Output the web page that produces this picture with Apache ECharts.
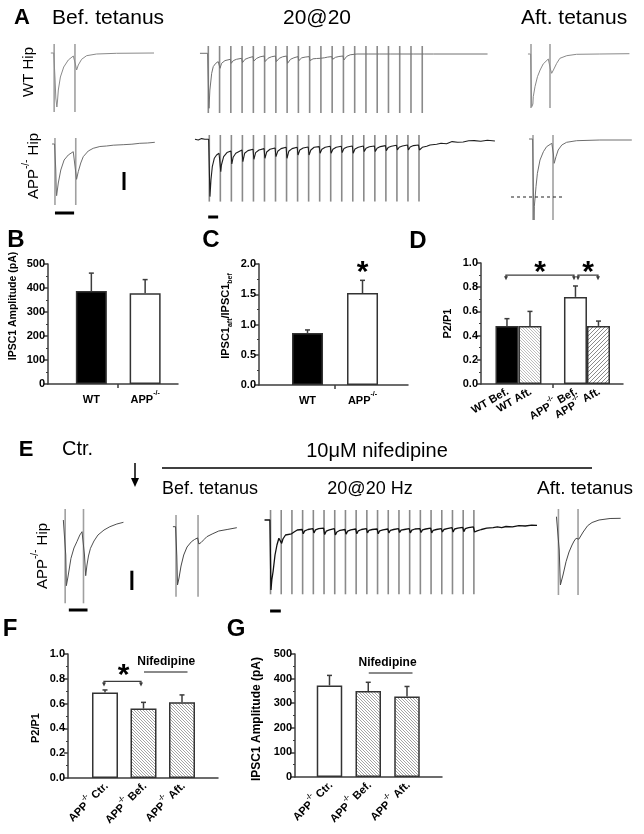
<!DOCTYPE html>
<html>
<head>
<meta charset="utf-8">
<script src="https://cdn.jsdelivr.net/npm/echarts@6.0.0/dist/echarts.min.js"></script>
<style>
html,body{margin:0;padding:0;background:#fff;}
#chart{width:644px;height:834px;}
</style>
</head>
<body>
<div id="chart"></div>
<script>
// ======================= DATA =======================
// Panel B : IPSC1 amplitude (pA)
const bCategories = ['WT', 'APP-/-'];
const bMean = [387, 378];
const bSem = [75, 57];
const bTicks = [0, 100, 200, 300, 400, 500];

// Panel C : IPSC1aft / IPSC1bef
const cCategories = ['WT', 'APP-/-'];
const cMean = [0.86, 1.52];
const cSem = [0.05, 0.21];
const cTicks = [0, 0.5, 1.0, 1.5, 2.0];

// Panel D : P2/P1
const dGroups = ['WT', 'APP-/-'];
const dLabels = ['WT Bef.', 'WT Aft.', 'APP-/- Bef.', 'APP-/- Aft.'];
const dBefMean = [0.48, 0.72];
const dBefSem = [0.06, 0.09];
const dAftMean = [0.48, 0.48];
const dAftSem = [0.12, 0.04];
const dTicks = [0, 0.2, 0.4, 0.6, 0.8, 1.0];

// Panel F : P2/P1 with nifedipine
const fCategories = ['APP-/- Ctr.', 'APP-/- Bef.', 'APP-/- Aft.'];
const fMean = [0.69, 0.56, 0.61];
const fSem = [0.02, 0.05, 0.06];
const fTicks = [0, 0.2, 0.4, 0.6, 0.8, 1.0];

// Panel G : IPSC1 amplitude with nifedipine (pA)
const gCategories = ['APP-/- Ctr.', 'APP-/- Bef.', 'APP-/- Aft.'];
const gMean = [372, 350, 327];
const gSem = [41, 35, 41];
const gTicks = [0, 100, 200, 300, 400, 500];

// Stimulus times (ms)
const pairStims = [0, 50];
const trainStims = [0, 50, 100, 150, 200, 250, 300, 350, 400, 450, 500, 550, 600, 650, 700, 750, 800, 850, 900, 950];

// Panel A traces: [time ms, current pA]
const aWtBef = [[-8,0],[-1,0],[2,-250],[4,-450],[6.5,-540],[8,-480],[10,-370],[15,-240],[23,-140],[34,-70],[46,-30],[49,-25],[51,-110],[54,-170],[58,-120],[66,-63],[78,-27],[102,-10],[150,-3],[240,0]];
const aAppBef = [[-7,0],[-1,0],[2,-260],[3,-440],[4,-517],[8,-390],[14,-260],[22,-160],[32,-110],[44,-77],[48,-70],[52,-353],[56,-277],[62,-190],[68,-127],[80,-70],[92,-43],[108,-25],[124,-20],[140,-12],[164,-7],[185,-2],[204,7],[222,10],[240,17]];
const aWtAft = [[-8,0],[-1,0],[1,-360],[2,-527],[5,-500],[6,-427],[10.5,-327],[17,-227],[24,-160],[32,-100],[45.5,-50],[49,-45],[51,-150],[54.4,-193],[59,-160],[67.6,-93],[76,-43],[94,-17],[120,-3],[181,0],[259,3]];
const aAppAft = [[-10,0],[-1,0],[1,-510],[2.5,-810],[3.3,-677],[7.5,-477],[11,-343],[17.5,-210],[26,-127],[34,-77],[47,-43],[49,-40],[51,-150],[53,-243],[57.5,-177],[63,-110],[72,-60],[84,-33],[109,-17],[167,-10],[247,-10]];
const aWtTrain = [[-37,0],[-3,0],
 [3,-550],[7,-367],[15,-200],[22,-133],[33,-100],[44,-83],[48,-80],
 [52,-150],[59,-100],[74,-73],[98,-60],
 [102,-100],[111,-73],[125,-60],[148,-50],
 [152,-93],[163,-60],[180,-45],[198,-33],
 [202,-77],[215,-50],[230,-35],[248,-27],
 [252,-83],[265,-50],[280,-35],[298,-27],
 [302,-83],[315,-50],[330,-35],[348,-27],
 [352,-100],[365,-60],[380,-45],[398,-33],
 [402,-73],[415,-45],[430,-38],[448,-33],
 [452,-73],[465,-55],[480,-52],[498,-50],
 [502,-67],[515,-45],[530,-38],[548,-33],
 [552,-60],[565,-40],[580,-32],[598,-27],
 [602,-67],[615,-30],[630,-15],[648,-10],
 [652,-15],[660,-7],[698,-7],
 [702,-15],[710,-7],[748,-7],
 [752,-15],[760,-7],[798,-7],
 [802,-15],[810,-7],[848,-7],
 [852,-15],[860,-7],[898,-7],
 [902,-15],[910,-7],[948,-7],
 [952,-15],[960,-7],[1000,-7],[1100,-7],[1240,-7]];
const aAppTrain = [[-65,0],[-50,-7],[-35,7],[-20,0],[-3,0],
 [3,-573],[7.5,-407],[13.6,-273],[22.6,-190],[33,-157],[44,-140],[48,-138],
 [52,-323],[55,-257],[65,-173],[80,-133],[98,-117],
 [102,-247],[108,-180],[120,-140],[148,-107],
 [152,-223],[160,-140],[175,-113],[198,-100],
 [202,-200],[210,-133],[225,-107],[248,-93],
 [252,-190],[260,-127],[275,-100],[298,-87],
 [302,-173],[310,-120],[325,-93],[348,-80],
 [352,-190],[360,-120],[375,-93],[398,-80],
 [402,-157],[410,-107],[425,-87],[448,-77],
 [452,-157],[460,-107],[475,-80],[498,-73],
 [502,-140],[510,-100],[525,-80],[548,-70],
 [552,-140],[560,-100],[575,-80],[598,-70],
 [602,-133],[610,-93],[625,-77],[648,-67],
 [652,-140],[660,-97],[675,-80],[698,-67],
 [702,-123],[710,-90],[725,-75],[748,-67],
 [752,-123],[760,-90],[775,-73],[798,-63],
 [802,-113],[810,-83],[825,-70],[848,-60],
 [852,-107],[860,-80],[875,-67],[898,-57],
 [902,-107],[910,-77],[925,-63],[948,-57],
 [952,-107],[965,-80],[985,-70],[1000,-57],[1030,-50],[1050,-40],[1075,-45],[1100,-23],[1125,-30],[1150,-27],[1175,-15],[1200,-13],[1230,-20],[1260,-10],[1294,-17]];

// Panel E traces: [time ms, current pA]
const eCtr = [[-5,0],[-1,0],[1.6,-350],[3.3,-657],[7.6,-570],[15.8,-383],[24,-280],[32,-217],[40,-150],[46,-117],[48.6,-110],[52.7,-350],[56,-557],[59.5,-450],[63.6,-360],[69,-283],[78.6,-210],[89.5,-150],[106,-100],[122,-67],[141,-40],[159,-23]];
const eBef = [[-7,0],[-1,0],[1.8,-293],[3.4,-583],[6.8,-513],[11.4,-393],[17.5,-283],[25,-203],[35,-150],[42,-128],[46.5,-116],[49,-112],[52,-173],[57,-158],[63.6,-128],[70,-100],[82,-73],[97,-43],[116,-28],[138,-10]];
const eTrain = [[-28,0],[-3,0],
 [2,-700],[6,-600],[12,-515],[21,-350],[30,-250],[39,-183],[48,-172],
 [52,-234],[58,-190],[70,-150],[98,-138],
 [103,-150],[110,-120],[125,-100],[148,-95],
 [153,-138],[160,-108],[175,-95],[198,-86],
 [203,-129],[210,-99],[225,-86],[248,-82],
 [253,-146],[260,-112],[275,-99],[298,-86],
 [303,-150],[310,-120],[325,-103],[348,-95],
 [353,-142],[360,-112],[375,-99],[398,-90],
 [403,-138],[410,-108],[425,-95],[448,-86],
 [453,-129],[460,-103],[475,-95],[498,-90],
 [503,-138],[510,-108],[525,-99],[548,-90],
 [553,-129],[560,-103],[575,-95],[598,-86],
 [603,-125],[610,-101],[625,-95],[648,-86],
 [653,-129],[660,-101],[675,-90],[698,-86],
 [703,-125],[710,-99],[725,-90],[748,-82],
 [753,-129],[760,-103],[775,-95],[798,-86],
 [803,-120],[810,-95],[825,-86],[848,-77],
 [853,-120],[860,-90],[875,-82],[898,-73],
 [903,-116],[910,-86],[925,-77],[948,-69],
 [953,-120],[965,-108],[985,-95],[1010,-82],[1040,-77],[1060,-69],[1080,-77],[1100,-65],[1130,-69],[1160,-56],[1190,-60],[1220,-52],[1245,-53]];
const eAft = [[-5,0],[-1,0],[2,-333],[5,-683],[11.7,-583],[19.4,-450],[27,-353],[34.7,-283],[40,-243],[45,-216],[49,-205],[52,-225],[55,-216],[63,-153],[74.5,-90],[85.7,-58],[103.5,-33],[131.6,-18],[158.6,-16]];

// ======================= STYLE / LAYOUT =======================
const FONT = 'Arial, "Liberation Sans", Helvetica, sans-serif';
const AX = '#3c3c3c';
const grids = [], xAxes = [], yAxes = [], series = [];

function hatch(dir, color, step, lw) {
  const c = document.createElement('canvas'); c.width = step; c.height = step;
  const g = c.getContext('2d'); g.fillStyle = '#fff'; g.fillRect(0, 0, step, step);
  g.strokeStyle = color; g.lineWidth = lw; g.beginPath();
  for (let k = -1; k <= 1; k++) {
    if (dir > 0) { g.moveTo(k * step, step); g.lineTo(k * step + step, 0); }
    else { g.moveTo(k * step, 0); g.lineTo(k * step + step, step); }
  }
  g.stroke();
  return { image: c, repeat: 'repeat' };
}
const hatchFwd = hatch(1, '#8a8a8a', 4, 1);
const hatchBack = hatch(-1, '#9a9a9a', 3, 0.9);
const hatchLight = hatch(-1, '#b5b5b5', 3, 0.9);

// ---------- trace panels ----------
function traceGrid(box, xr, yr) {
  const i = grids.length;
  grids.push({ left: box[0], top: box[1], width: box[2], height: box[3], containLabel: false, show: false });
  xAxes.push({ type: 'value', gridIndex: i, min: xr[0], max: xr[1], show: false });
  yAxes.push({ type: 'value', gridIndex: i, min: yr[0], max: yr[1], show: false });
  return { x: xAxes.length - 1, y: yAxes.length - 1 };
}
function segSeries(ax, segs, color, width, dash, z) {
  return {
    type: 'custom', xAxisIndex: ax.x, yAxisIndex: ax.y, data: segs, silent: true, z: z || 2, animation: false,
    renderItem: (p, api) => {
      const a = api.coord([api.value(0), api.value(1)]);
      const b = api.coord([api.value(2), api.value(3)]);
      return { type: 'line', shape: { x1: a[0], y1: a[1], x2: b[0], y2: b[1] },
               style: { stroke: color, lineWidth: width, lineDash: dash || null } };
    }
  };
}
function tracePanel(box, xr, yr, trace, stims, artRange, color, lw, artColor) {
  const ax = traceGrid(box, xr, yr);
  series.push(segSeries(ax, stims.map(t => [t, artRange[0], t, artRange[1]]), artColor || '#a0a0a0', 1.6));
  series.push({ type: 'line', xAxisIndex: ax.x, yAxisIndex: ax.y, data: trace, symbol: 'none', silent: true, z: 3,
                animation: false, lineStyle: { color: color, width: lw || 1 } });
  return ax;
}

// Panel A
tracePanel([50, 43, 104, 70], [-10, 240], [-600, 100], aWtBef, pairStims, [-590, 90], '#8a8a8a', 1);
const gAppBef = tracePanel([50.8, 136, 104, 80], [-10, 240], [-720, 80], aAppBef, pairStims, [-610, 60], '#6e6e6e', 1);
series.push(segSeries(gAppBef, [[0, -690, 46, -690], [166, -280, 166, -460]], '#000', 3, null, 4));
tracePanel([199.3, 45.3, 290.5, 68], [-40, 1250], [-600, 80], aWtTrain, trainStims, [-597, 73], '#707070', 1, '#8a8a8a');
const gAppTrain = tracePanel([193.85, 133.3, 302.4, 86], [-70, 1300], [-800, 60], aAppTrain, trainStims, [-623, 43], '#1e1e1e', 1.1, '#8a8a8a');
series.push(segSeries(gAppTrain, [[-5, -777, 40, -777]], '#000', 3, null, 4));
tracePanel([527.2, 44, 102.6, 70], [-10, 260], [-600, 100], aWtAft, pairStims, [-540, 100], '#8a8a8a', 1);
const gAppAft = tracePanel([509, 134, 124, 87], [-60, 250], [-820, 50], aAppAft, pairStims, [-810, 40], '#6e6e6e', 1);
series.push(segSeries(gAppAft, [[-55, -580, 80, -580]], '#222', 1.2, [3, 3], 4));

// Panel E
const gECtr = tracePanel([61.5, 507, 73.3, 106], [-10, 190], [-930, 130], eCtr, pairStims, [-833, 110], '#505050', 1);
series.push(segSeries(gECtr, [[182, -507, 182, -700], [10, -900, 61, -900]], '#000', 3, null, 4));
tracePanel([171.6, 513.7, 68.3, 85], [-10, 145], [-720, 130], eBef, pairStims, [-700, 117], '#484848', 1);
const gETrain = tracePanel([264.1, 508, 274, 106], [-30, 1250], [-940, 120], eTrain, trainStims, [-743, 100], '#111', 1.3, '#8a8a8a');
series.push(segSeries(gETrain, [[-2, -910, 48, -910]], '#000', 3, null, 4));
tracePanel([554.5, 507.7, 66.7, 89], [-10, 160], [-800, 90], eAft, pairStims, [-783, 77], '#484848', 1);

// ---------- bar panels ----------
function rich(s) {
  if (typeof s !== 'string') return '';
  if (s.indexOf('APP-/-') === 0) return '{b|APP}{s|-/-}' + (s.length > 6 ? '{b|' + s.slice(6) + '}' : '');
  return '{b|' + s + '}';
}
const richStyles = (fs) => ({
  b: { fontFamily: FONT, fontWeight: 'bold', fontSize: fs, color: '#000', lineHeight: fs + 4, verticalAlign: 'bottom' },
  s: { fontFamily: FONT, fontWeight: 'bold', fontSize: Math.round(fs * 0.65), color: '#000', lineHeight: 7, verticalAlign: 'top' }
});
function labelAxis(gi, xr, xLabels, labelVals, idxs, rotate, withLine, tickVals) {
  const vals = idxs.map(k => labelVals[k]);
  const labelFor = (v) => {
    let best = -1, bd = 1e9;
    labelVals.forEach((u, k) => { const d = Math.abs(u - v); if (d < bd) { bd = d; best = k; } });
    return bd < 1e-3 ? rich(xLabels[best]) : '';
  };
  xAxes.push({
    type: 'value', gridIndex: gi, min: xr[0], max: xr[1], position: 'bottom',
    axisLine: { show: withLine, onZero: false, lineStyle: { color: AX, width: 1.5 } },
    axisTick: (withLine && tickVals) ? { show: true, customValues: tickVals, length: 4, lineStyle: { color: AX, width: 1.5 } } : { show: false },
    axisLabel: { show: true, customValues: vals, rotate: rotate || 0, margin: rotate ? 5 : 6,
                 showMinLabel: true, showMaxLabel: true, hideOverlap: false,
                 formatter: (v) => labelFor(v), rich: richStyles(11) },
    splitLine: { show: false }
  });
  return xAxes.length - 1;
}
function barGrid(box, xr, ticks, fmt, xLabels, labelVals, labelGroups, tickVals, rotate, name, nameGap, nameSize, namePad, nameRich) {
  const gi = grids.length;
  grids.push({ left: box[0], top: box[1], width: box[2], height: box[3], containLabel: false, show: false });
  // first axis carries the axis line & ticks; extra axes only carry labels (avoids min/max label overlap hiding)
  const xi = labelAxis(gi, xr, xLabels, labelVals, labelGroups[0], rotate, true, tickVals);
  for (let g = 1; g < labelGroups.length; g++) labelAxis(gi, xr, xLabels, labelVals, labelGroups[g], rotate, false, null);
  yAxes.push({
    type: 'value', gridIndex: gi, min: ticks[0], max: ticks[ticks.length - 1], interval: ticks[1] - ticks[0],
    axisLine: { show: true, onZero: false, lineStyle: { color: AX, width: 1.5 } },
    axisTick: { show: true, length: 4, lineStyle: { color: AX, width: 1.5 } },
    minorTick: { show: true, splitNumber: 2, length: 2, lineStyle: { color: AX, width: 1 } },
    splitLine: { show: false },
    axisLabel: { fontFamily: FONT, fontWeight: 'bold', fontSize: 11, color: '#000', margin: 3, formatter: fmt,
                 showMinLabel: true, showMaxLabel: true },
    name: name, nameLocation: 'middle', nameGap: nameGap,
    nameTextStyle: Object.assign({ fontFamily: FONT, fontWeight: 'bold', fontSize: nameSize, color: '#000', padding: namePad }, nameRich ? { rich: nameRich } : {})
  });
  return { x: xi, y: yAxes.length - 1 };
}
function errSeries(ax, means, sems, offPx) {
  return {
    type: 'custom', xAxisIndex: ax.x, yAxisIndex: ax.y, z: 4, silent: true, animation: false,
    data: means.map((m, k) => [k, m, m + sems[k]]),
    renderItem: (p, api) => {
      const a = api.coord([api.value(0), api.value(1)]);
      const b = api.coord([api.value(0), api.value(2)]);
      const x = a[0] + (offPx || 0);
      return { type: 'group', children: [
        { type: 'line', shape: { x1: x, y1: a[1], x2: x, y2: b[1] }, style: { stroke: AX, lineWidth: 1.5 } },
        { type: 'line', shape: { x1: x - 2.5, y1: b[1], x2: x + 2.5, y2: b[1] }, style: { stroke: AX, lineWidth: 1.5 } }
      ] };
    }
  };
}
function barSeries(ax, means, colors, width, gap) {
  return { type: 'bar', xAxisIndex: ax.x, yAxisIndex: ax.y, barWidth: width, barGap: gap || '30%', animation: false, silent: true, z: 3,
           data: means.map((m, k) => ({ value: [k, m], itemStyle: { color: colors[k] } })),
           itemStyle: { borderColor: '#333', borderWidth: 1.5 } };
}
function starText(x, y) {
  return { type: 'text', x: x, y: y, style: { text: '*', fontFamily: FONT, fontWeight: 'bold', fontSize: 30, fill: '#000', align: 'center', verticalAlign: 'top' } };
}
const fmt1 = v => v.toFixed(1);
const fmt0 = v => String(v);

// Panel B
const iB = barGrid([48, 264, 130, 120], [-0.806, 1.611], bTicks, fmt0, bCategories, [0, 1], [[0, 1]], [0.5], 0,
  'IPSC1 Amplitude (pA)', 29, 10.5, [0, 0, 0, 36]);
series.push(barSeries(iB, bMean, ['#000', '#fff'], 31));
series.push(errSeries(iB, bMean, bSem, 0));

// Panel C
const iC = barGrid([259, 264, 149, 121], [-0.882, 1.827], cTicks, fmt1, cCategories, [0, 1], [[0, 1]], [0.5], 0,
  '{m|IPSC1}{sub|aft}{m|/IPSC1}{sub|bef}', 25, 11, [0, 0, 0, 17],
  { m: { fontFamily: FONT, fontWeight: 'bold', fontSize: 11, color: '#000', lineHeight: 14, verticalAlign: 'top' },
    sub: { fontFamily: FONT, fontWeight: 'bold', fontSize: 7, color: '#000', lineHeight: 7, verticalAlign: 'bottom' } });
series.push(barSeries(iC, cMean, ['#000', '#fff'], 31));
series.push(errSeries(iC, cMean, cSem, 0));
series.push({ type: 'custom', xAxisIndex: iC.x, yAxisIndex: iC.y, z: 5, silent: true, animation: false,
  data: [[1, cMean[1] + cSem[1]]],
  renderItem: (p, api) => { const c = api.coord([api.value(0), api.value(1)]); return starText(c[0], c[1] - 23); } });

// Panel D
const dOff = 11.5;
const iD = barGrid([481, 263, 142, 121], [-0.547, 1.526], dTicks, fmt1, dLabels,
  [-dOff / 68.5, dOff / 68.5, 1 - dOff / 68.5, 1 + dOff / 68.5], [[0, 2], [1, 3]], [0.5], 30, 'P2/P1', 28, 11, [0, 0, 0, 0]);
series.push(barSeries(iD, dBefMean, ['#000', '#fff'], 23, '0%'));
series.push(barSeries(iD, dAftMean, [hatchLight, hatchFwd], 23, '0%'));
series.push(errSeries(iD, dBefMean, dBefSem, -dOff));
series.push(errSeries(iD, dAftMean, dAftSem, dOff));
// significance brackets: [group from, side from, group to, side to]
const dBrackets = [[0, -1, 1, -1], [1, -1, 1, 1]];
series.push({ type: 'custom', xAxisIndex: iD.x, yAxisIndex: iD.y, z: 5, silent: true, animation: false,
  data: dBrackets,
  renderItem: (p, api) => {
    const y = api.coord([0, 0.9])[1], yEnd = api.coord([0, 0.865])[1];
    let xa = api.coord([api.value(0), 0])[0] + api.value(1) * dOff;
    let xb = api.coord([api.value(2), 0])[0] + api.value(3) * dOff;
    if (p.dataIndex === 0) { xa -= 1; xb -= 1.5; } else { xa += 2.5; xb -= 0.5; }
    const tri = (x) => ({ type: 'polygon', shape: { points: [[x - 2, yEnd - 3], [x + 2, yEnd - 3], [x, yEnd + 1]] }, style: { fill: AX } });
    return { type: 'group', children: [
      { type: 'polyline', shape: { points: [[xa, yEnd - 2], [xa, y], [xb, y], [xb, yEnd - 2]] }, style: { stroke: AX, lineWidth: 1.3, fill: null } },
      tri(xa), tri(xb), starText((xa + xb) / 2, y - 17)
    ] };
  } });

// Panel F
const iF = barGrid([68, 654, 150, 124], [-0.961, 2.935], fTicks, fmt1, fCategories, [0, 1, 2], [[0, 2], [1]], null, 45,
  'P2/P1', 27, 11, [0, 24, 0, 0]);
series.push(barSeries(iF, fMean, ['#fff', hatchBack, hatchBack], 26));
series.push(errSeries(iF, fMean, fSem, 0));
series.push({ type: 'custom', xAxisIndex: iF.x, yAxisIndex: iF.y, z: 5, silent: true, animation: false,
  data: [[0, 1]],
  renderItem: (p, api) => {
    const y = api.coord([0, 0.78])[1], yEnd = api.coord([0, 0.745])[1];
    const xa = api.coord([api.value(0), 0])[0] - 1, xb = api.coord([api.value(1), 0])[0] - 2.5;
    const tri = (x) => ({ type: 'polygon', shape: { points: [[x - 2, yEnd - 3], [x + 2, yEnd - 3], [x, yEnd + 1]] }, style: { fill: AX } });
    return { type: 'group', children: [
      { type: 'polyline', shape: { points: [[xa, yEnd - 2], [xa, y], [xb, y], [xb, yEnd - 2]] }, style: { stroke: AX, lineWidth: 1.3, fill: null } },
      tri(xa), tri(xb), starText((xa + xb) / 2 + 1, y - 21)
    ] };
  } });
function nifSeries(ax, yVal, tx) {
  return { type: 'custom', xAxisIndex: ax.x, yAxisIndex: ax.y, z: 5, silent: true, animation: false,
    data: [[1, 2]],
    renderItem: (p, api) => {
      const y = api.coord([0, yVal])[1];
      const xa = api.coord([api.value(0), 0])[0] + 0.5, xb = api.coord([api.value(1), 0])[0] + 5.5;
      return { type: 'group', children: [
        { type: 'line', shape: { x1: xa, y1: y, x2: xb, y2: y }, style: { stroke: '#8a8a8a', lineWidth: 2 } },
        { type: 'text', x: (xa + xb) / 2 + tx, y: y - 10, style: { text: 'Nifedipine', fontFamily: FONT, fontWeight: 'bold', fontSize: 12, fill: '#000', align: 'center', verticalAlign: 'middle' } }
      ] };
    } };
}
series.push(nifSeries(iF, 0.855, 0.5));

// Panel G
const iG = barGrid([295, 654, 147, 123], [-0.890, 2.903], gTicks, fmt0, gCategories, [0, 1, 2], [[0, 2], [1]], null, 45,
  'IPSC1 Amplitude (pA)', 32, 12, [0, 7, 0, 0]);
series.push(barSeries(iG, gMean, ['#fff', hatchBack, hatchBack], 25.5));
series.push(errSeries(iG, gMean, gSem, 0));
series.push(nifSeries(iG, 423, -3));

// ---------- text annotations ----------
function T(text, x, y, size, opt) {
  opt = opt || {};
  return { type: 'text', x: x, y: y, rotation: opt.rot || 0, silent: true, z: 10,
    style: { text: text, fontFamily: FONT, fontSize: size, fontWeight: opt.bold ? 'bold' : 'normal', fill: '#000',
             align: opt.align || 'left', verticalAlign: 'middle', rich: opt.rich } };
}
const vRich = { m: { fontFamily: FONT, fontSize: 15, lineHeight: 20, verticalAlign: 'bottom', fill: '#000' },
                s: { fontFamily: FONT, fontSize: 10, lineHeight: 10, verticalAlign: 'top', fill: '#000' } };
const graphic = [
  T('A', 22, 18, 22, { bold: true, align: 'center' }),
  T('Bef. tetanus', 52, 18, 21),
  T('20@20', 317, 18, 21, { align: 'center' }),
  T('Aft. tetanus', 521, 18, 21),
  T('WT Hip', 29, 72, 15, { align: 'center', rot: Math.PI / 2 }),
  T('{m|APP}{s|-/-}{m| Hip}', 31, 166, 15, { align: 'center', rot: Math.PI / 2, rich: vRich }),
  T('B', 16, 240, 24, { bold: true, align: 'center' }),
  T('C', 211, 240, 24, { bold: true, align: 'center' }),
  T('D', 418, 241, 24, { bold: true, align: 'center' }),
  T('E', 26, 450, 22, { bold: true, align: 'center' }),
  T('Ctr.', 62, 449, 20),
  T('10\u03bcM nifedipine', 377, 451, 20, { align: 'center' }),
  T('Bef. tetanus', 162, 489, 18),
  T('20@20 Hz', 370, 489, 18, { align: 'center' }),
  T('Aft. tetanus', 537, 489, 19),
  T('{m|APP}{s|-/-}{m| Hip}', 40, 556, 15, { align: 'center', rot: Math.PI / 2, rich: vRich }),
  T('F', 10, 629, 24, { bold: true, align: 'center' }),
  T('G', 236, 629, 24, { bold: true, align: 'center' }),
  { type: 'line', silent: true, shape: { x1: 162, y1: 468, x2: 592, y2: 468 }, style: { stroke: '#000', lineWidth: 1.5 } },
  { type: 'line', silent: true, shape: { x1: 135, y1: 463, x2: 135, y2: 480 }, style: { stroke: '#000', lineWidth: 1.5 } },
  { type: 'polygon', silent: true, shape: { points: [[131, 478], [139, 478], [135, 487]] }, style: { fill: '#000' } }
];

const chart = echarts.init(document.getElementById('chart'), null, { renderer: 'canvas', width: 644, height: 834 });
chart.setOption({
  backgroundColor: '#fff',
  animation: false,
  grid: grids,
  xAxis: xAxes,
  yAxis: yAxes,
  series: series,
  graphic: graphic
});
</script>
</body>
</html>
